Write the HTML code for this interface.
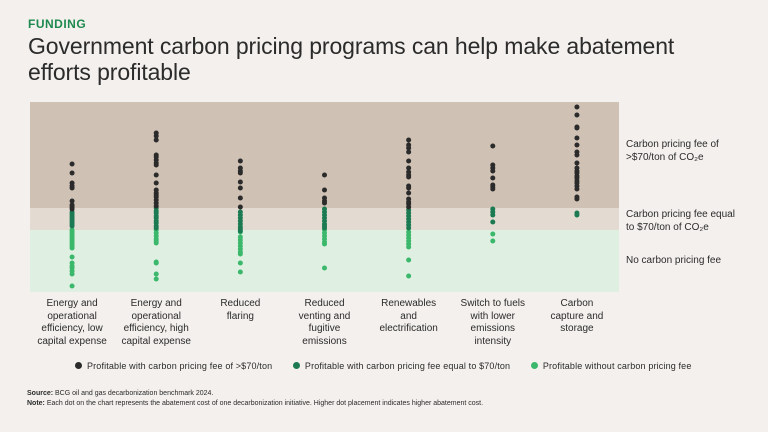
<!DOCTYPE html>
<html><head><meta charset="utf-8">
<style>
body{margin:0;width:768px;height:432px;background:#f3f0ed;font-family:"Liberation Sans",sans-serif;overflow:hidden;position:relative;color:#2b2b2b}
.abs{position:absolute}
.cat{position:absolute;top:298px;width:90px;text-align:center;font-size:10px;line-height:12.5px;color:#2b2b2b}
.rl{position:absolute;left:626px;font-size:10px;line-height:12.5px}
</style></head><body>
<div class="abs" style="left:28px;top:17px;font-size:12px;font-weight:bold;color:#1e8a4f;letter-spacing:0.5px">FUNDING</div>
<div class="abs" style="left:28px;top:33px;font-size:23px;line-height:26px;color:#2b2b2b;letter-spacing:-0.1px">Government carbon pricing programs can help make abatement<br>efforts profitable</div>
<svg class="abs" style="left:0;top:0" width="768" height="432">
<g id="bands"></g><g id="dots"></g>
</svg>
<div class="rl" style="top:139px">Carbon pricing fee of<br>&gt;$70/ton of CO₂e</div>
<div class="rl" style="top:209px">Carbon pricing fee equal<br>to $70/ton of CO₂e</div>
<div class="rl" style="top:255px">No carbon pricing fee</div>
<div id="cats"></div>
<div class="abs" style="left:75px;top:361px;font-size:9px;white-space:nowrap;letter-spacing:0.15px">
<span><span style="display:inline-block;width:7px;height:7px;border-radius:50%;background:#2b2b2b;margin-right:5px"></span>Profitable with carbon pricing fee of &gt;$70/ton</span>
<span style="margin-left:18px"><span style="display:inline-block;width:7px;height:7px;border-radius:50%;background:#1b7a52;margin-right:5px"></span>Profitable with carbon pricing fee equal to $70/ton</span>
<span style="margin-left:18px"><span style="display:inline-block;width:7px;height:7px;border-radius:50%;background:#3bb86b;margin-right:5px"></span>Profitable without carbon pricing fee</span>
</div>
<div class="abs" style="left:27px;top:389px;font-size:7px;line-height:10px;white-space:nowrap"><b>Source:</b> BCG oil and gas decarbonization benchmark 2024.<br><b>Note:</b> Each dot on the chart represents the abatement cost of one decarbonization initiative. Higher dot placement indicates higher abatement cost.</div>
<script>
const categories=["Energy and<br>operational<br>efficiency, low<br>capital expense","Energy and<br>operational<br>efficiency, high<br>capital expense","Reduced<br>flaring","Reduced<br>venting and<br>fugitive<br>emissions","Renewables<br>and<br>electrification","Switch to fuels<br>with lower<br>emissions<br>intensity","Carbon<br>capture and<br>storage"];
const above70=[[128,119,109,106,104,91,87,85,83],[159,156,152,137,135,132,129,127,117,109,102,99,97,95,92,89,86],[131,124,121,119,110,104,94,85],[117,102,94,91,89],[152,147,144,140,131,124,120,117,115,106,104,99,93,90,88,85],[146,127,124,121,114,107,105,103],[185,177,165,164,154,147,140,137,129,124,121,119,116,114,111,109,106,103,95,93]];
const equal70=[[80,78,76,74,72,70,68,66],[84,81,79,76,74,71,69,66,64],[80,77,74,71,68,65,63,61],[83,80,77,74,71,68,66,64],[82,79,76,73,70,67,64],[83,80,77,70],[79,77]];
const noFee=[[62,60,58,56,54,52,50,48,46,44,35,29,26,24,21,18,6],[62,59,56,53,51,49,30,29,18,13],[60,55,52,49,46,43,40,38,29,20],[62,59,56,53,50,48,24],[60,57,54,51,48,45,32,16],[58,51],[]];
const bandEdges=[0,62,84,190];
const X0=30,X1=619,Y0=292,Y1=102,VMAX=190;
const y=v=>Y0-(v/VMAX)*(Y0-Y1);
const x=i=>X0+(X1-X0)*(i+0.5)/categories.length;
const NS="http://www.w3.org/2000/svg";
const bands=document.getElementById('bands');
const bandCols=["#dff0e2","#e3dbd1","#cfc1b4"];
const bandNames=["band-no-fee","band-equal-70","band-above-70"];
for(let b=0;b<3;b++){const r=document.createElementNS(NS,'rect');
r.setAttribute('x',X0);r.setAttribute('width',X1-X0);
r.setAttribute('y',y(bandEdges[b+1]));r.setAttribute('height',y(bandEdges[b])-y(bandEdges[b+1]));
r.setAttribute('fill',bandCols[b]);


bands.appendChild(r);}
const dots=document.getElementById('dots');
const series=[[noFee,"#3bb86b","dot-no-fee"],[equal70,"#1b7a52","dot-equal-70"],[above70,"#2b2b2b","dot-above-70"]];
series.forEach(([arr,col,nm])=>arr.forEach((vals,i)=>vals.forEach(v=>{
const c=document.createElementNS(NS,'circle');
c.setAttribute('cx',x(i));c.setAttribute('cy',y(v));c.setAttribute('r',2.5);c.setAttribute('fill',col);


dots.appendChild(c);})));
const cats=document.getElementById('cats');
categories.forEach((t,i)=>{const d=document.createElement('div');d.className='cat';
d.style.left=(x(i)-45)+'px';d.innerHTML=t;


cats.appendChild(d);});
</script>
</body></html>
